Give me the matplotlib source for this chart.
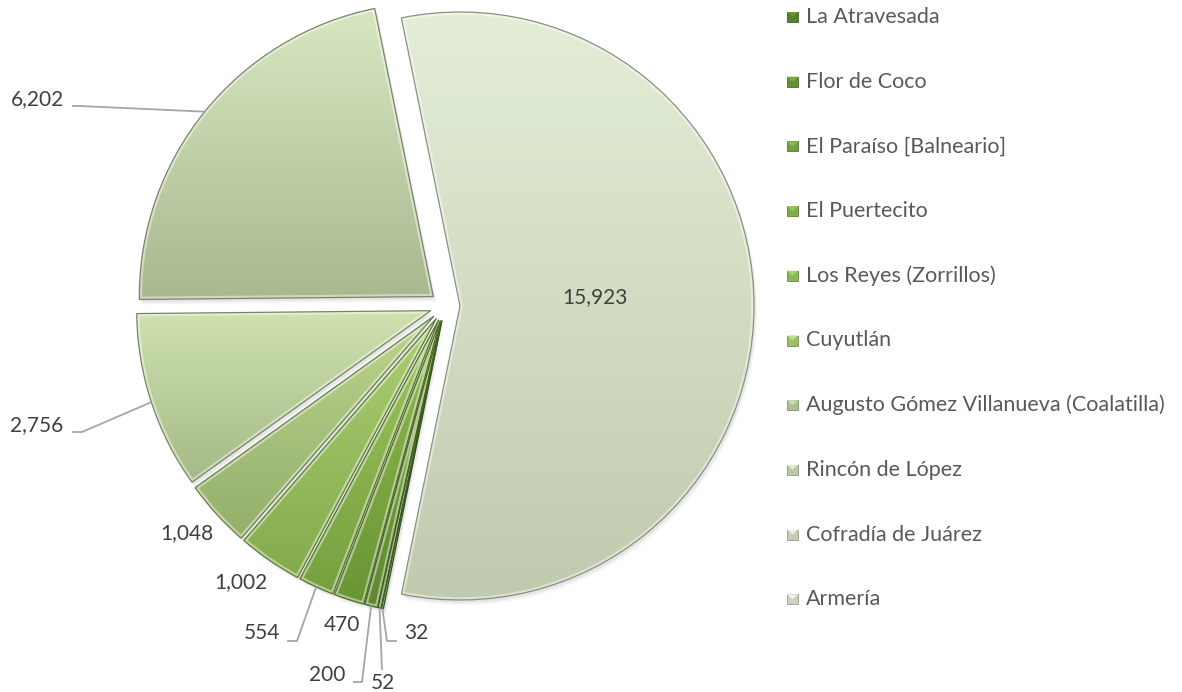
import numpy as np
import matplotlib
matplotlib.use("Agg")
import matplotlib.pyplot as plt
from matplotlib.colors import to_rgb
from matplotlib.patches import Rectangle, Wedge, Polygon

# ---------------- data ----------------
names = ["La Atravesada", "Flor de Coco", "El Paraíso [Balneario]", "El Puertecito",
         "Los Reyes (Zorrillos)", "Cuyutlán", "Augusto Gómez Villanueva (Coalatilla)",
         "Rincón de López", "Cofradía de Juárez", "Armería"]
values = [32, 52, 200, 470, 554, 1002, 1048, 2756, 6202, 15923]
value_labels = ["32", "52", "200", "470", "554", "1,002", "1,048", "2,756", "6,202", "15,923"]

# ---------------- styles ----------------
top_colors = ["#6a9a35", "#76a53c", "#82b044", "#90bb4f", "#9fc65e", "#acce72",
              "#bcd58e", "#cfe2b0", "#d7e7c1", "#e4eed7"]
bottom_colors = ["#4b7325", "#557e2a", "#5f892f", "#6a9535", "#76a03f", "#83ab4d",
                 "#93af6a", "#a4ba86", "#a9b88f", "#bfcaae"]
swatch_colors = ["#587f2e", "#66913a", "#74a043", "#80ab4b", "#8db559", "#9dbd70",
                 "#aebf94", "#bcc7aa", "#c5cdb8", "#cbd1c3"]

W, H = 1182, 692
fig = plt.figure(figsize=(W / 100, H / 100), dpi=100)
ax = fig.add_axes([0, 0, 1, 1])
FONT = ["Lato", "DejaVu Sans"]


def Y(y):
    return H - y


# pie drawn clockwise from the top: Armería first, then the rest in order
order = [9, 0, 1, 2, 3, 4, 5, 6, 7, 8]
center = (445.0, Y(306))
R = 294.0
EXPL = 15.0
wedges, _ = ax.pie([values[i] for i in order], startangle=101.5, counterclock=False,
                   center=center, radius=R, wedgeprops=dict(linewidth=0))

geo = {}
for k, w in enumerate(wedges):
    i = order[k]
    tm = np.radians((w.theta1 + w.theta2) / 2.0)
    c = (center[0] + EXPL * np.cos(tm), center[1] + EXPL * np.sin(tm))
    w.set_center(c)
    geo[i] = (c, tm)
    top, bot = np.array(to_rgb(top_colors[i])), np.array(to_rgb(bottom_colors[i]))
    dark = bot * 0.72
    # soft shadow
    for off, a in ((5, 0.04), (3, 0.06)):
        sh = Wedge((c[0] + off * 0.6, c[1] - off), R, w.theta1, w.theta2,
                   facecolor="#000000", alpha=a, linewidth=0, zorder=1)
        ax.add_patch(sh)
    w.set_facecolor("none")
    w.set_edgecolor(dark)
    w.set_linewidth(0.9)
    w.set_zorder(5)
    ext = w.get_path().get_extents()
    t = np.linspace(0, 1, 256)[:, None, None]
    img = (1 - t) * top + t * bot
    im = ax.imshow(img, extent=(ext.x0, ext.x1, ext.y0, ext.y1), origin="upper",
                   aspect="auto", interpolation="bilinear", zorder=2)
    im.set_clip_path(w)
    hl = Wedge(c, R, w.theta1, w.theta2, facecolor="none", edgecolor="white",
               alpha=0.45, linewidth=4, zorder=3)
    ax.add_patch(hl)
    hl.set_clip_path(w)

# ---------------- labels ----------------
label_pos = {0: (416, 633), 1: (383, 683), 2: (327, 675), 3: (342, 625), 4: (262, 633),
             5: (241, 582), 6: (187, 533), 7: (37, 425), 8: (37, 99), 9: (595, 297)}
leaders = {0: [(397, 641), (387, 641)], 1: [(382, 670)], 2: [(353, 682), (362, 682)],
           4: [(287, 641), (297, 641)], 7: [(72, 432), (82, 432)], 8: [(72, 106), (80, 106)]}

for i, (x, y) in label_pos.items():
    ax.text(x, Y(y), value_labels[i], ha="center", va="center", fontsize=15,
            color="#404040", family=FONT, zorder=10)
for i, pts in leaders.items():
    c, tm = geo[i]
    arc = (c[0] + R * np.cos(tm), c[1] + R * np.sin(tm))
    xs = [p[0] for p in pts] + [arc[0]]
    ys = [Y(p[1]) for p in pts] + [arc[1]]
    ax.plot(xs, ys, color="#a6a6a6", linewidth=1.3, zorder=9, solid_capstyle="butt")

# ---------------- legend ----------------
for j, name in enumerate(names):
    yc = Y(17 + j * 64.7)
    base = np.array(to_rgb(swatch_colors[j]))
    x0, x1, y0, y1 = 787, 798, yc - 5, yc + 5
    ax.add_patch(Rectangle((x0, y0), x1 - x0, y1 - y0, facecolor=base,
                           edgecolor=base * 0.75, linewidth=0.6, zorder=5))
    # bevel: light top triangle
    ax.add_patch(Polygon([(x0, y1), (x1, y1), ((x0 + x1) / 2, yc)], closed=True,
                         facecolor=np.minimum(base * 1.18, 1), linewidth=0, zorder=6))
    ax.text(806, yc, name, ha="left", va="center", fontsize=15.5, color="#595959",
            family=FONT)

ax.set_xlim(0, W)
ax.set_ylim(0, H)
ax.axis("off")
fig.savefig("out.png", dpi=100)
